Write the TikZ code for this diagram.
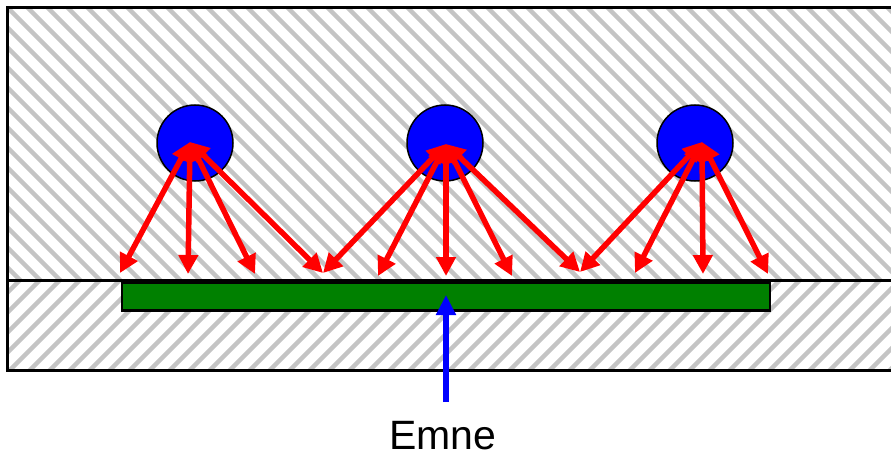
\documentclass[tikz,border=0pt]{standalone}
\usepackage{fontspec}
\setmainfont{Liberation Sans}
\usetikzlibrary{arrows.meta}
\definecolor{hatchgray}{RGB}{196,196,196}
\definecolor{barGreen}{RGB}{0,128,0}
\begin{document}
\begin{tikzpicture}[x=1pt,y=-1pt,
  hatch/.style={hatchgray,line width=4.5pt},
  frame/.style={black,line width=3pt},
  ball/.style={circle,draw=black,line width=1.5pt,fill=blue,minimum size=76pt,inner sep=0pt},
  ray/.style={red,line width=5.5pt,{Triangle[length=19pt,width=19pt]}-{Triangle[length=19pt,width=19pt]}},
  probe/.style={blue,line width=5.5pt,-{Triangle[length=20pt,width=19pt]}},
  bar/.style={draw=black,line width=2.5pt,fill=barGreen}]
\useasboundingbox (0,0) rectangle (891,457);
% hatching upper block
\begin{scope}
  \clip (7,7.5) rectangle (891,280);
  \foreach \i in {-400,-380,...,900} \draw[hatch] (\i,0) -- ++(400,400);
\end{scope}
% hatching lower block
\begin{scope}
  \clip (7,280) rectangle (891,370.5);
  \foreach \i in {-200,-180,...,1000} \draw[hatch] (\i,380) -- ++(120,-120);
\end{scope}
% frame
\draw[frame] (891,7.5) -- (7,7.5) -- (7,370.5) -- (891,370.5);
\draw[frame] (7,280) -- (891,280);
% green bar
\node[bar,minimum width=648pt,minimum height=28pt,inner sep=0pt,anchor=north west] (emnebar) at (120.5,281) {};
% balls
\node[ball] (c1) at (195,143) {};
\node[ball] (c2) at (445,143) {};
\node[ball] (c3) at (695,143) {};
% origins
\coordinate (o1) at (190,142);
\coordinate (o2) at (446,144);
\coordinate (o3) at (702,142);
% ends
\coordinate (a1) at (120,273);
\coordinate (a2) at (188,274);
\coordinate (a3) at (255,274);
\coordinate (m1) at (323,273);
\coordinate (b2) at (378,276);
\coordinate (b3) at (446,276);
\coordinate (b4) at (512,276);
\coordinate (m2) at (580,272);
\coordinate (d2) at (635,273);
\coordinate (d3) at (703,274);
\coordinate (d4) at (768,274);
\foreach \e in {a1,a2,a3,m1} \draw[ray] (o1) -- (\e);
\foreach \e in {m1,b2,b3,b4,m2} \draw[ray] (o2) -- (\e);
\foreach \e in {m2,d2,d3,d4} \draw[ray] (o3) -- (\e);
% label and probe arrow
\node[font=\fontsize{41pt}{45pt}\selectfont,inner sep=0pt] (lbl) at (443,436) {Emne};
\coordinate (ps) at (446,402);
\coordinate (pt) at (446,295);
\draw[probe] (ps) -- (pt);
\end{tikzpicture}
\end{document}
